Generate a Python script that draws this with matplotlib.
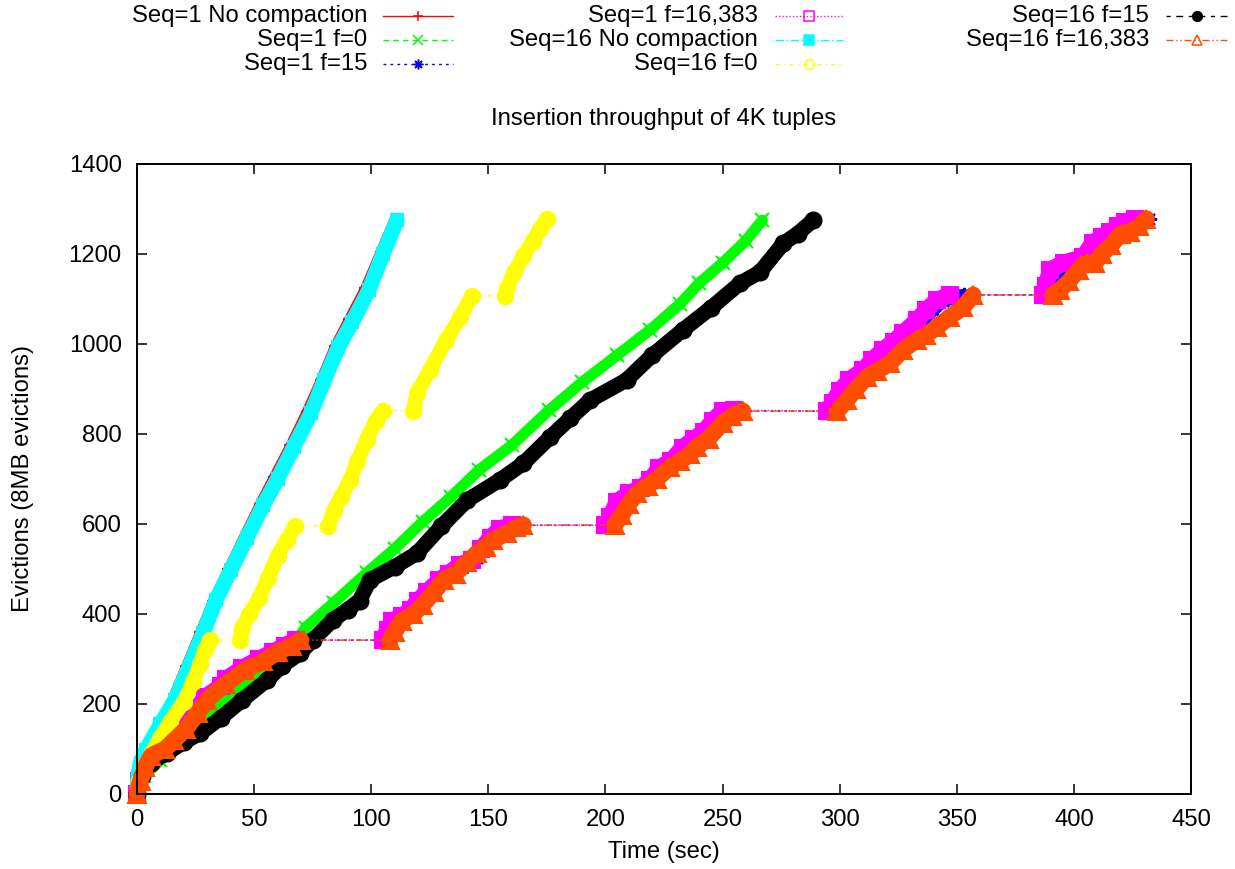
import matplotlib
matplotlib.use('Agg')
import matplotlib.pyplot as plt
from matplotlib.lines import Line2D

plt.rcParams['font.family'] = ['Liberation Sans', 'DejaVu Sans']

# ---------------- data ----------------
title = "Insertion throughput of 4K tuples"
x_label = "Time (sec)"
y_label = "Evictions (8MB evictions)"
x_ticks = [0, 50, 100, 150, 200, 250, 300, 350, 400, 450]
y_ticks = [0, 200, 400, 600, 800, 1000, 1200, 1400]

series_labels = ["Seq=1 No compaction", "Seq=1 f=0", "Seq=1 f=15", "Seq=1 f=16,383",
                 "Seq=16 No compaction", "Seq=16 f=0", "Seq=16 f=15", "Seq=16 f=16,383"]

s1_nocomp_t = [0, 1, 3, 9, 15, 21, 27, 32.5, 39, 45.5, 52.5, 58.5, 65.5, 72.5, 78.5, 84.5, 90.5, 97.5, 104, 110]
s1_nocomp_e = [0, 40, 90, 150, 210, 285, 360, 430, 500, 570, 645, 705, 775, 850, 920, 995, 1055, 1125, 1205, 1278]

s1_f0_t = [0, 3, 10, 20, 30, 40, 50, 60, 72, 84, 98, 110, 122, 134, 146, 160, 176, 190, 205, 219, 232, 240, 250, 260, 267]
s1_f0_e = [0, 40, 75, 120, 170, 220, 255, 285, 370, 425, 491, 545, 605, 660, 720, 775, 853, 915, 975, 1031, 1090, 1135, 1180, 1230, 1275]

s1_f15_t = [0, 1, 3, 5.5, 11.5, 15.5, 20.5, 25.5, 29.5, 37, 44, 52, 58, 64, 69,
            106, 108, 111, 115, 119, 123, 127, 131, 136, 140, 145, 149, 153, 157, 162,
            201, 204, 207, 212, 217, 221, 226, 230, 235, 239, 243, 247, 252, 257,
            296, 299, 302, 306, 311, 316, 320, 325, 330, 335, 340, 344, 353,
            389, 391, 394, 399, 404, 408, 412, 417, 422, 426, 432]
s1_f15_e = [0, 30, 60, 88, 103, 123, 148, 183, 213, 243, 272, 296, 314, 330, 342,
            342, 365, 388, 398, 415, 438, 460, 478, 495, 512, 525, 550, 575, 590, 597,
            597, 620, 650, 668, 682, 700, 728, 742, 770, 788, 805, 830, 846, 851,
            851, 873, 898, 922, 942, 963, 986, 1005, 1025, 1050, 1075, 1095, 1109,
            1109, 1135, 1160, 1178, 1190, 1210, 1228, 1242, 1258, 1270, 1278]

s1_f16383_t = [0, 1, 2.5, 5, 11, 15, 20, 25, 29, 36, 38, 45, 52, 58, 63, 68,
               105, 107, 109, 113, 117, 120, 124, 129, 133, 138, 143, 147, 151, 155, 160,
               200, 202, 205, 210, 215, 219, 223, 228, 233, 238, 242, 246, 250, 255,
               294.6, 297, 300, 304, 310, 314, 318.5, 323, 327, 333, 337, 341.6, 347,
               387, 388, 390, 395.6, 404, 408, 412, 415.5, 419, 422, 426]
s1_f16383_e = [0, 30, 60, 90, 105, 125, 150, 185, 215, 240, 255, 280, 300, 315, 330, 342,
               342, 365, 385, 395, 410, 430, 450, 475, 490, 510, 520, 545, 570, 590, 597,
               597, 615, 650, 668, 680, 697, 725, 740, 770, 790, 805, 830, 851, 853,
               851, 870, 895, 920, 942, 965, 987, 1005, 1024, 1053, 1075, 1098, 1109,
               1109, 1130, 1165, 1180, 1193, 1225, 1238, 1249, 1262, 1272, 1278]

s16_nocomp_t = [0, 0.5, 1.5, 3.8, 10, 16.2, 22, 28.3, 33.7, 40, 47, 54, 60, 67, 74.3, 80, 86, 92, 99, 105, 111]
s16_nocomp_e = [0, 40, 70, 98, 155, 209, 280, 358, 431, 497, 570, 643, 700, 772, 847, 920, 993, 1050, 1120, 1200, 1275]

s16_f0_t = [0, 1, 3, 6, 10, 14, 20, 24, 27, 29, 31,
            44, 45, 48, 52, 56, 60, 64, 67.5,
            81.5, 84, 87, 91, 94, 98, 102, 105,
            118, 119.5, 125, 132, 138, 143,
            157, 158, 161, 165, 169, 172, 175]
s16_f0_e = [0, 30, 60, 90, 125, 160, 205, 250, 290, 320, 342,
            342, 370, 400, 435, 480, 530, 565, 595,
            595, 630, 660, 697, 740, 787, 830, 852,
            852, 891, 942, 1009, 1060, 1107,
            1107, 1125, 1160, 1195, 1230, 1255, 1278]

s16_f15_t = [0, 2, 6, 12.8, 20, 27, 36, 45, 55.5, 62, 69.6, 75, 83.7, 90, 95, 99.5, 110, 119.5, 130, 141,
             155, 165, 176.4, 185, 193.4, 209, 220, 233, 245, 257.5, 266, 276, 282, 288.7]
s16_f15_e = [0, 40, 70, 91, 115, 135, 170, 209, 253, 285, 313, 342, 387, 410, 430, 476, 505, 535, 595, 653,
             698, 735, 793, 835, 875, 920, 975, 1031, 1080, 1135, 1160, 1224, 1245, 1275]

s16_f16383_t = [0, 1.5, 3.5, 6, 12, 16, 21, 26, 30, 38, 46, 54, 60, 66, 70,
                108, 110, 113, 118, 122, 127, 131, 136, 141, 145, 149, 152, 158, 162, 165,
                204, 207, 210, 213.5, 218, 222, 227.6, 232, 236, 239, 244, 250, 254, 258.7,
                299, 303, 307, 311.7, 316, 321.5, 327, 333, 337, 341.6, 347, 352.7, 357,
                391, 394, 398, 402, 405, 409, 412, 416, 420, 424, 428, 431]
s16_f16383_e = [0, 30, 60, 85, 100, 120, 145, 180, 210, 245, 275, 295, 315, 330, 342,
                342, 360, 385, 400, 420, 450, 476, 490, 515, 535, 550, 564, 580, 593, 598,
                598, 620, 645, 668, 685, 700, 727, 740, 755, 771, 790, 824, 840, 851,
                851, 875, 900, 927, 940, 957, 987, 1009, 1020, 1038, 1060, 1082, 1109,
                1109, 1120, 1140, 1165, 1180, 1180, 1200, 1220, 1245, 1250, 1262, 1278]

all_t = [s1_nocomp_t, s1_f0_t, s1_f15_t, s1_f16383_t, s16_nocomp_t, s16_f0_t, s16_f15_t, s16_f16383_t]
all_e = [s1_nocomp_e, s1_f0_e, s1_f15_e, s1_f16383_e, s16_nocomp_e, s16_f0_e, s16_f15_e, s16_f16383_e]

# ---------------- styles ----------------
colors = ['#ff0000', '#00ff00', '#0000ff', '#ff00ff', '#00ffff', '#ffff00', '#000000', '#ff4d00']
markers = ['+', 'x', (8, 2, 0), 's', 's', 'o', 'o', '^']
open_marker = [False, False, False, True, False, True, False, True]
dashes = ['-', (0, (4, 3)), (0, (2, 3)), (0, (1, 1.5)), (0, (6, 2, 1, 2)),
          (0, (3, 3, 1, 3)), (0, (3, 4, 5, 4)), (0, (5, 2, 1, 2, 1, 2))]
band_lw = [7.0, 8.0, 9.0, 12.0, 11.0, 10.5, 11.0, 12.0]
band_ms = [9, 10, 11, 12, 9, 11, 11.5, 13]

W, H = 1235, 869
fig = plt.figure(figsize=(W / 100, H / 100), dpi=100)
L, R, T, B = 137, 1191, 164, 794
ax = fig.add_axes([L / W, 1 - B / H, (R - L) / W, (B - T) / H])

FS = 17.2

for i in range(8):
    t, e = all_t[i], all_e[i]
    c = colors[i]
    z = 2 + i
    # thin connecting line in series style
    ax.plot(t, e, color=c, lw=1.0, ls=dashes[i], zorder=z, clip_on=False)
    # dense-marker band: split at flat pauses
    chunks, cur = [], [0]
    for k in range(1, len(t)):
        if t[k] - t[k - 1] > 8 and abs(e[k] - e[k - 1]) < 3:
            chunks.append(cur)
            cur = [k]
        else:
            cur.append(k)
    chunks.append(cur)
    for ch in chunks:
        ax.plot([t[k] for k in ch], [e[k] for k in ch], color=c, lw=band_lw[i], ls='-',
                solid_capstyle='round', solid_joinstyle='round', zorder=z, clip_on=False)
    ax.plot(t, e, ls='none', marker=markers[i], ms=band_ms[i], color=c,
            mfc=c, mew=1.5, zorder=z, clip_on=False)

ax.set_xlim(0, 450)
ax.set_ylim(0, 1400)
ax.set_xticks(x_ticks)
ax.set_yticks(y_ticks)
ax.tick_params(direction='in', length=7, width=1.1, top=True, right=True,
               labelsize=FS, pad=11)
for s in ax.spines.values():
    s.set_linewidth(1.4)
    s.set_zorder(20)

ax.set_xlabel(x_label, fontsize=FS)
ax.xaxis.set_label_coords(0.5, -(852 - B) / (B - T))
ax.xaxis.label.set_va('center')
ax.set_ylabel(y_label, fontsize=FS)
ax.yaxis.set_label_coords(-(L - 23) / (R - L), 0.5)
ax.yaxis.label.set_va('center')
ax.set_title(title, fontsize=FS, y=(B - 127) / (B - T), va='center')

# ---------------- legend (gnuplot style, outside on top) ----------------
cols = [(367, 383, 453), (758, 775, 843), (1149, 1166, 1227)]
rows = [16, 40, 64]
for i, lab in enumerate(series_labels):
    col, row = divmod(i, 3)
    tx, lx0, lx1 = cols[col]
    y = 1 - rows[row] / H
    fig.text(tx / W, y, lab, ha='right', va='center', fontsize=FS)
    fig.add_artist(Line2D([lx0 / W, lx1 / W], [y, y], color=colors[i], lw=1.0, ls=dashes[i],
                          transform=fig.transFigure))
    fig.add_artist(Line2D([(lx0 + lx1) / 2 / W], [y], color=colors[i], ls='none',
                          marker=markers[i], ms=7, mew=1.1,
                          mfc='none' if open_marker[i] else colors[i],
                          transform=fig.transFigure))

fig.savefig('out.png', dpi=100)
